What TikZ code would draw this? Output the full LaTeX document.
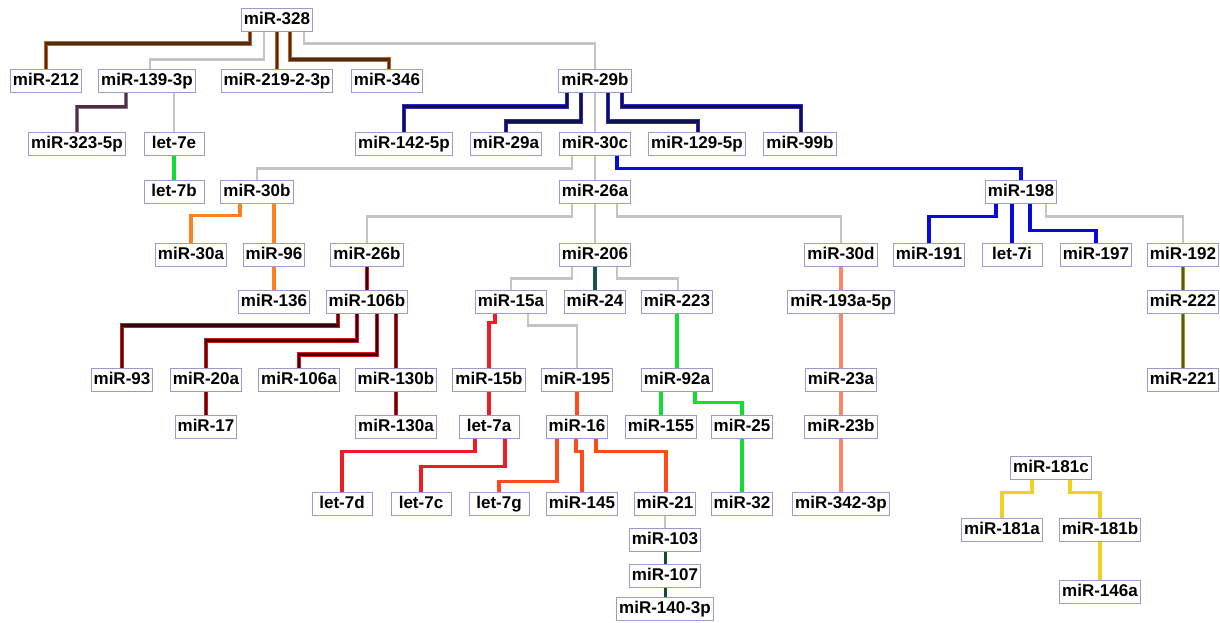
\documentclass[tikz,border=0pt]{standalone}
\usepackage{fontspec}
\setmainfont{Liberation Sans}
\definecolor{boxline}{HTML}{9A9AD0}
\definecolor{grayl}{HTML}{C4C4C4}
\definecolor{brhalo}{HTML}{C0661E}
\definecolor{brcore}{HTML}{552A0E}
\definecolor{pphalo}{HTML}{8A7088}
\definecolor{ppcore}{HTML}{4A3040}
\definecolor{nvhalo}{HTML}{2A2AC0}
\definecolor{nvcore}{HTML}{10104A}
\definecolor{bluel}{HTML}{0A0AD8}
\definecolor{greenl}{HTML}{12DD30}
\definecolor{orangel}{HTML}{FF8020}
\definecolor{mrhalo}{HTML}{E01020}
\definecolor{mrcore}{HTML}{3A0008}
\definecolor{redl}{HTML}{EE1C24}
\definecolor{redorl}{HTML}{FF4A1A}
\definecolor{teall}{HTML}{1A5050}
\definecolor{olhalo}{HTML}{A0A030}
\definecolor{olcore}{HTML}{5A5A10}
\definecolor{salmonl}{HTML}{F48A66}
\definecolor{yellowl}{HTML}{F0D020}
\definecolor{dgreenl}{HTML}{105020}
\tikzset{
  mir/.style={draw=boxline, fill=white, line width=1pt, inner xsep=2.5pt,
    minimum height=22pt, minimum width=60pt, text height=12pt, text depth=3.5pt,
    font=\fontsize{17}{19}\selectfont\bfseries},
  gl/.style={draw=grayl, line width=2.4pt},
  brl/.style={draw=brhalo, line width=4.2pt, postaction={draw=brcore, line width=2.2pt}},
  ppl/.style={draw=pphalo, line width=4pt, postaction={draw=ppcore, line width=2.2pt}},
  nvl/.style={draw=nvhalo, line width=4.2pt, postaction={draw=nvcore, line width=2.4pt}},
  bll/.style={draw=bluel, line width=3.8pt},
  grl/.style={draw=greenl, line width=3.8pt},
  orl/.style={draw=orangel, line width=3.8pt},
  mrl/.style={draw=mrhalo, line width=4.2pt, postaction={draw=mrcore, line width=2.2pt}},
  rdl/.style={draw=redl, line width=3.8pt},
  rol/.style={draw=redorl, line width=3.8pt},
  tel/.style={draw=teall, line width=3.2pt},
  oll/.style={draw=olhalo, line width=4pt, postaction={draw=olcore, line width=2.4pt}},
  sal/.style={draw=salmonl, line width=3.8pt},
  yel/.style={draw=yellowl, line width=3.8pt},
  dgl/.style={draw=dgreenl, line width=3pt},
  thg/.style={draw=grayl, line width=1.5pt}
}
\begin{document}
\begin{tikzpicture}[x=1pt,y=-1pt]
\useasboundingbox[fill=white] (0,0) rectangle (1220,622);
% nodes
\node[mir] (n328) at (277,20) {miR-328};
\node[mir] (n212) at (46,81) {miR-212};
\node[mir] (n139) at (147,81) {miR-139-3p};
\node[mir] (n219) at (277,81) {miR-219-2-3p};
\node[mir] (n346) at (387,81) {miR-346};
\node[mir] (n29b) at (595,81) {miR-29b};
\node[mir] (n323) at (77,144) {miR-323-5p};
\node[mir] (l7e) at (174,144) {let-7e};
\node[mir] (n142) at (404,144) {miR-142-5p};
\node[mir] (n29a) at (506,144) {miR-29a};
\node[mir] (n30c) at (595,144) {miR-30c};
\node[mir] (n129) at (697,144) {miR-129-5p};
\node[mir] (n99b) at (800,144) {miR-99b};
\node[mir] (l7b) at (174,192) {let-7b};
\node[mir] (n30b) at (257,192) {miR-30b};
\node[mir] (n26a) at (595,192) {miR-26a};
\node[mir] (n198) at (1021,192) {miR-198};
\node[mir] (n30a) at (191,255) {miR-30a};
\node[mir] (n96) at (274,255) {miR-96};
\node[mir] (n26b) at (367,255) {miR-26b};
\node[mir] (n206) at (595,255) {miR-206};
\node[mir] (n30d) at (841,255) {miR-30d};
\node[mir] (n191) at (929,255) {miR-191};
\node[mir] (l7i) at (1012,255) {let-7i};
\node[mir] (n197) at (1096,255) {miR-197};
\node[mir] (n192) at (1183,255) {miR-192};
\node[mir] (n136) at (274,302) {miR-136};
\node[mir] (n106b) at (367,302) {miR-106b};
\node[mir] (n15a) at (511,302) {miR-15a};
\node[mir] (n24) at (595,302) {miR-24};
\node[mir] (n223) at (677,302) {miR-223};
\node[mir] (n193) at (841,302) {miR-193a-5p};
\node[mir] (n222) at (1183,302) {miR-222};
\node[mir] (n93) at (122,380) {miR-93};
\node[mir] (n20a) at (206,380) {miR-20a};
\node[mir] (n106a) at (299,380) {miR-106a};
\node[mir] (n130b) at (396,380) {miR-130b};
\node[mir] (n15b) at (489,380) {miR-15b};
\node[mir] (n195) at (577,380) {miR-195};
\node[mir] (n92a) at (677,380) {miR-92a};
\node[mir] (n23a) at (841,380) {miR-23a};
\node[mir] (n221) at (1183,380) {miR-221};
\node[mir] (n17) at (206,427) {miR-17};
\node[mir] (n130a) at (396,427) {miR-130a};
\node[mir] (l7a) at (489,427) {let-7a};
\node[mir] (n16) at (577,427) {miR-16};
\node[mir] (n155) at (661,427) {miR-155};
\node[mir] (n25) at (742,427) {miR-25};
\node[mir] (n23b) at (841,427) {miR-23b};
\node[mir] (l7d) at (342,504) {let-7d};
\node[mir] (l7c) at (421,504) {let-7c};
\node[mir] (l7g) at (499,504) {let-7g};
\node[mir] (n145) at (582,504) {miR-145};
\node[mir] (n21) at (665,504) {miR-21};
\node[mir] (n32) at (742,504) {miR-32};
\node[mir] (n342) at (841,504) {miR-342-3p};
\node[mir] (n103) at (665,540) {miR-103};
\node[mir] (n107) at (665,576) {miR-107};
\node[mir] (n140) at (665,609) {miR-140-3p};
\node[mir] (n181c) at (1051,468) {miR-181c};
\node[mir] (n181a) at (1002,530) {miR-181a};
\node[mir] (n181b) at (1100,530) {miR-181b};
\node[mir] (n146a) at (1100,592) {miR-146a};
% edges from miR-328
\draw[brl] ([xshift=-27pt]n328.south) -- ++(0,12) -| (n212.north);
\draw[gl] ([xshift=-13pt]n328.south) -- ++(0,28) -| ([xshift=3pt]n139.north);
\draw[brl] (n328.south) -- (n219.north);
\draw[brl] ([xshift=13pt]n328.south) -- ++(0,28) -| ([xshift=2pt]n346.north);
\draw[gl] ([xshift=27pt]n328.south) -- ++(0,12) -| (n29b.north);
% miR-139-3p
\draw[ppl] ([xshift=-21pt]n139.south) -- ++(0,14) -| (n323.north);
\draw[gl] ([xshift=27pt]n139.south) -- (l7e.north);
\draw[grl] (l7e.south) -- (l7b.north);
% miR-29b
\draw[nvl] ([xshift=-28pt]n29b.south) -- ++(0,14) -| (n142.north);
\draw[nvl] ([xshift=-14pt]n29b.south) -- ++(0,29) -| (n29a.north);
\draw[gl] (n29b.south) -- (n30c.north);
\draw[nvl] ([xshift=13pt]n29b.south) -- ++(0,29) -| ([xshift=1pt]n129.north);
\draw[nvl] ([xshift=27pt]n29b.south) -- ++(0,14) -| ([xshift=1pt]n99b.north);
% miR-30c
\draw[gl] ([xshift=-23pt]n30c.south) -- ++(0,13) -| (n30b.north);
\draw[gl] (n30c.south) -- (n26a.north);
\draw[bll] ([xshift=22pt]n30c.south) -- ++(0,13) -| (n198.north);
% miR-30b
\draw[orl] ([xshift=-17pt]n30b.south) -- ++(0,12) -| (n30a.north);
\draw[orl] ([xshift=17pt]n30b.south) -- (n96.north);
\draw[orl] (n96.south) -- (n136.north);
% miR-26a
\draw[gl] ([xshift=-23pt]n26a.south) -- ++(0,13) -| (n26b.north);
\draw[gl] (n26a.south) -- (n206.north);
\draw[gl] ([xshift=22pt]n26a.south) -- ++(0,13) -| (n30d.north);
% miR-198
\draw[bll] ([xshift=-25pt]n198.south) -- ++(0,13) -| (n191.north);
\draw[bll] ([xshift=-9pt]n198.south) -- (l7i.north);
\draw[bll] ([xshift=9pt]n198.south) -- ++(0,27) -| (n197.north);
\draw[gl] ([xshift=25pt]n198.south) -- ++(0,13) -| (n192.north);
\draw[oll] (n192.south) -- (n222.north);
\draw[oll] (n222.south) -- (n221.north);
% miR-26b / miR-106b
\draw[mrl] (n26b.south) -- (n106b.north);
\draw[mrl] ([xshift=-29pt]n106b.south) -- ++(0,12) -| (n93.north);
\draw[mrl] ([xshift=-10pt]n106b.south) -- ++(0,27) -| (n20a.north);
\draw[mrl] ([xshift=10pt]n106b.south) -- ++(0,41) -| (n106a.north);
\draw[mrl] ([xshift=29pt]n106b.south) -- (n130b.north);
\draw[mrl] (n20a.south) -- (n17.north);
\draw[mrl] (n130b.south) -- (n130a.north);
% miR-206
\draw[gl] ([xshift=-23pt]n206.south) -- ++(0,12) -| (n15a.north);
\draw[tel] (n206.south) -- (n24.north);
\draw[gl] ([xshift=22pt]n206.south) -- ++(0,12) -| ([xshift=1pt]n223.north);
% miR-15a
\draw[rdl] ([xshift=-16pt]n15a.south) -- ++(0,9) -| (n15b.north);
\draw[gl] ([xshift=17pt]n15a.south) -- ++(0,12) -| (n195.north);
\draw[rdl] (n15b.south) -- (l7a.north);
\draw[rol] (n195.south) -- (n16.north);
% miR-223 / miR-92a
\draw[grl] (n223.south) -- (n92a.north);
\draw[grl] ([xshift=-16pt]n92a.south) -- (n155.north);
\draw[grl] ([xshift=18pt]n92a.south) -- ++(0,11) -| (n25.north);
\draw[grl] (n25.south) -- (n32.north);
% let-7a
\draw[rdl] ([xshift=-14pt]l7a.south) -- ++(0,13) -| (l7d.north);
\draw[rdl] ([xshift=16pt]l7a.south) -- ++(0,28) -| (l7c.north);
% miR-16
\draw[rol] ([xshift=-20pt]n16.south) -- ++(0,43) -| (l7g.north);
\draw[rol] ([xshift=-1pt]n16.south) -- ++(0,13) -| (n145.north);
\draw[rol] ([xshift=19pt]n16.south) -- ++(0,13) -| ([xshift=1pt]n21.north);
\draw[thg] (n21.south) -- (n103.north);
\draw[dgl] (n103.south) -- (n107.north);
\draw[dgl] (n107.south) -- (n140.north);
% miR-30d chain
\draw[sal] (n30d.south) -- (n193.north);
\draw[sal] (n193.south) -- (n23a.north);
\draw[sal] (n23a.south) -- (n23b.north);
\draw[sal] (n23b.south) -- (n342.north);
% miR-181c
\draw[yel] ([xshift=-19pt]n181c.south) -- ++(0,13) -| (n181a.north);
\draw[yel] ([xshift=19pt]n181c.south) -- ++(0,13) -| (n181b.north);
\draw[yel] (n181b.south) -- (n146a.north);
\end{tikzpicture}
\end{document}
